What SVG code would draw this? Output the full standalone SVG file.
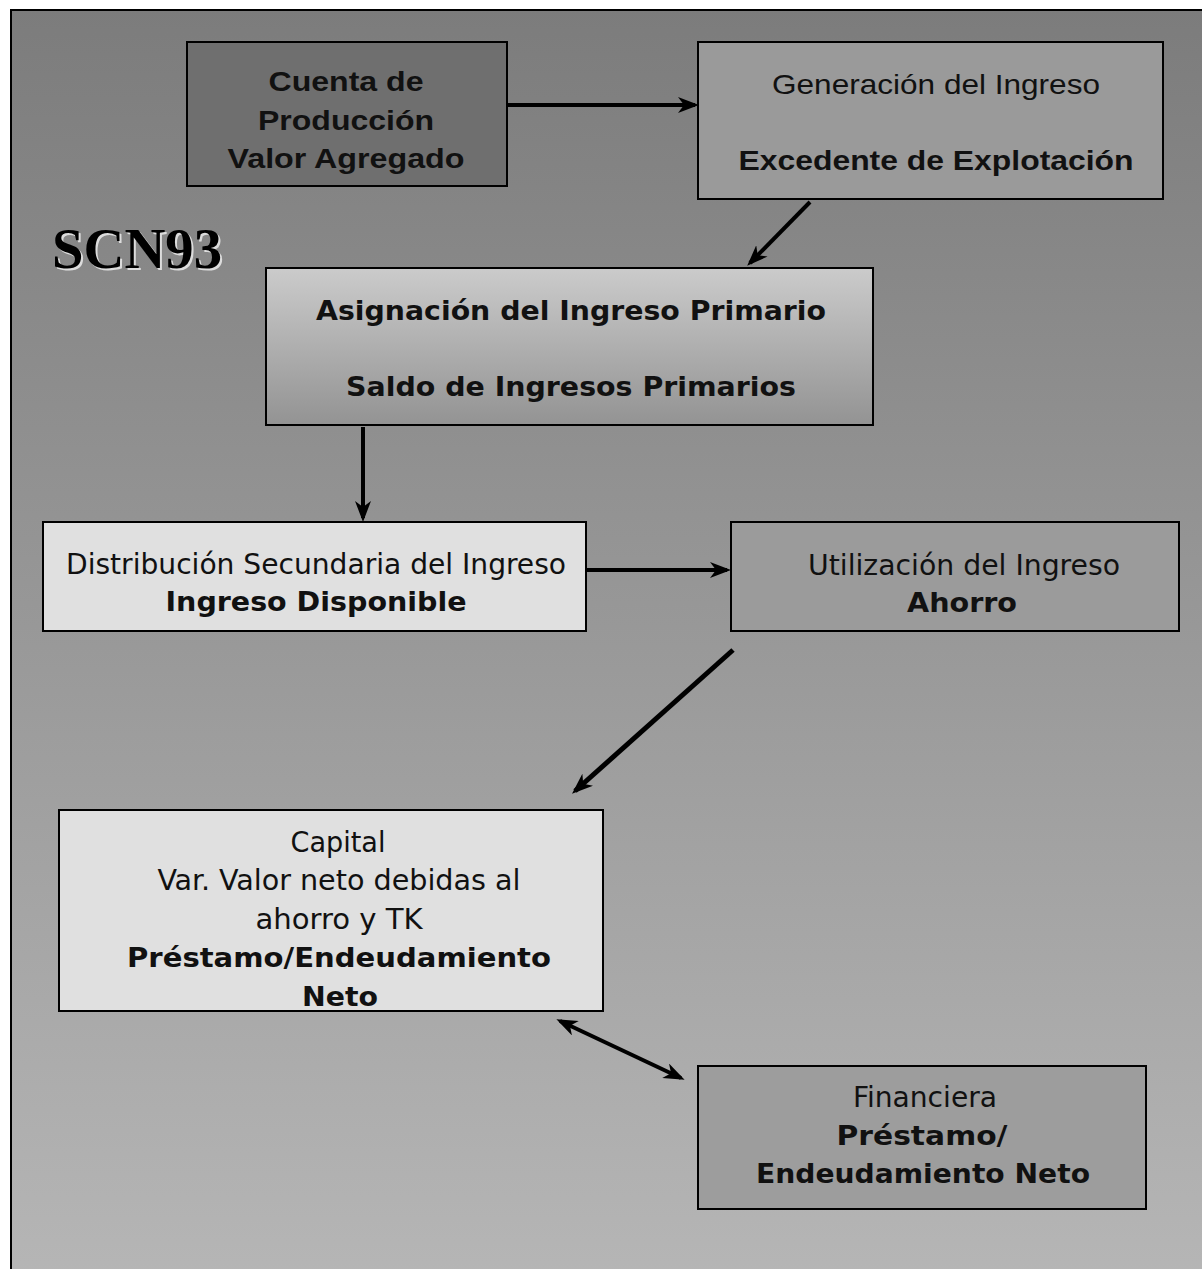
<svg xmlns="http://www.w3.org/2000/svg" width="1202" height="1269" viewBox="0 0 1202 1269">
<style>
.box{stroke:#000;stroke-width:2}
.t{font-family:"DejaVu Sans","Liberation Sans",sans-serif;font-size:27px;fill:#111;text-anchor:middle}
.r{font-family:"DejaVu Sans Condensed","DejaVu Sans","Liberation Sans",sans-serif;font-stretch:condensed;font-size:28px;fill:#111;text-anchor:middle}
.a{font-family:"Liberation Sans",Arial,sans-serif;font-size:28px;fill:#111;text-anchor:middle}
.b{font-weight:bold}
.c{stroke:#000;stroke-width:4;fill:none;marker-end:url(#ah)}
</style>
<defs>
<linearGradient id="bg" x1="0" y1="0" x2="0" y2="1">
<stop offset="0" stop-color="#7c7c7c"/>
<stop offset="1" stop-color="#b6b6b6"/>
</linearGradient>
<linearGradient id="g3" x1="0" y1="0" x2="0" y2="1">
<stop offset="0" stop-color="#cbcbcb"/>
<stop offset="1" stop-color="#939393"/>
</linearGradient>
<marker id="ah" markerUnits="userSpaceOnUse" markerWidth="22" markerHeight="16" refX="17" refY="8" orient="auto-start-reverse" viewBox="0 0 22 16">
<path d="M0,0 L21,8 L0,16 L6,8 Z" fill="#000"/>
</marker>
</defs>
<rect x="0" y="0" width="1202" height="1269" fill="#fff"/>
<rect x="11" y="10" width="1200" height="1275" fill="url(#bg)" stroke="#000" stroke-width="2"/>
<g id="title">
<text x="54" y="270" font-family="'Liberation Serif','Times New Roman',serif" font-weight="bold" font-size="56" fill="#dcdcdc" textLength="170" lengthAdjust="spacingAndGlyphs">SCN93</text>
<text x="52" y="268" font-family="'Liberation Serif','Times New Roman',serif" font-weight="bold" font-size="56" fill="#000" textLength="170" lengthAdjust="spacingAndGlyphs">SCN93</text>
</g>
<g id="connectors">
<line class="c" x1="508" y1="105" x2="695" y2="105"/>
<line class="c" x1="810" y1="202" x2="750" y2="263"/>
<line class="c" x1="363" y1="427" x2="363" y2="518"/>
<line class="c" x1="587" y1="570" x2="727" y2="570"/>
<line class="c" x1="733" y1="650" x2="575" y2="791" style="stroke-width:5"/>
<line class="c" x1="560" y1="1021" x2="681" y2="1078" style="marker-start:url(#ah)"/>
</g>
<g id="n1">
<rect class="box" x="187" y="42" width="320" height="144" fill="#6f6f6f"/>
<text class="a b" x="346" y="91" textLength="155" lengthAdjust="spacingAndGlyphs">Cuenta de</text>
<text class="a b" x="346" y="130" textLength="176" lengthAdjust="spacingAndGlyphs">Producción</text>
<text class="a b" x="346" y="168" textLength="237" lengthAdjust="spacingAndGlyphs">Valor Agregado</text>
</g>
<g id="n2">
<rect class="box" x="698" y="42" width="465" height="157" fill="#9a9a9a"/>
<text class="a" x="936" y="94" textLength="328" lengthAdjust="spacingAndGlyphs">Generación del Ingreso</text>
<text class="a b" x="936" y="170" textLength="395" lengthAdjust="spacingAndGlyphs">Excedente de Explotación</text>
</g>
<g id="n3">
<rect class="box" x="266" y="268" width="607" height="157" fill="url(#g3)"/>
<text class="t b" x="571" y="320" textLength="510" lengthAdjust="spacingAndGlyphs">Asignación del Ingreso Primario</text>
<text class="t b" x="571" y="396" textLength="450" lengthAdjust="spacingAndGlyphs">Saldo de Ingresos Primarios</text>
</g>
<g id="n4">
<rect class="box" x="43" y="522" width="543" height="109" fill="#e0e0e0"/>
<text class="r" x="316" y="574" textLength="500" lengthAdjust="spacingAndGlyphs">Distribución Secundaria del Ingreso</text>
<text class="t b" x="316" y="611" textLength="301" lengthAdjust="spacingAndGlyphs">Ingreso Disponible</text>
</g>
<g id="n5">
<rect class="box" x="731" y="522" width="448" height="109" fill="#9b9b9b"/>
<text class="r" x="964" y="575" textLength="312" lengthAdjust="spacingAndGlyphs">Utilización del Ingreso</text>
<text class="t b" x="962" y="612" textLength="110" lengthAdjust="spacingAndGlyphs">Ahorro</text>
</g>
<g id="n6">
<rect class="box" x="59" y="810" width="544" height="201" fill="#e0e0e0"/>
<text class="r" x="338" y="852" textLength="95" lengthAdjust="spacingAndGlyphs">Capital</text>
<text class="r" x="339" y="890" textLength="363" lengthAdjust="spacingAndGlyphs">Var. Valor neto debidas al</text>
<text class="r" x="339" y="929" textLength="167" lengthAdjust="spacingAndGlyphs">ahorro y TK</text>
<text class="t b" x="339" y="967" textLength="424" lengthAdjust="spacingAndGlyphs">Préstamo/Endeudamiento</text>
<text class="t b" x="340" y="1006" textLength="76" lengthAdjust="spacingAndGlyphs">Neto</text>
</g>
<g id="n7">
<rect class="box" x="698" y="1066" width="448" height="143" fill="#9d9d9d"/>
<text class="r" x="925" y="1107" textLength="144" lengthAdjust="spacingAndGlyphs">Financiera</text>
<text class="t b" x="922" y="1145" textLength="171" lengthAdjust="spacingAndGlyphs">Préstamo/</text>
<text class="t b" x="923" y="1183" textLength="334" lengthAdjust="spacingAndGlyphs">Endeudamiento Neto</text>
</g>
</svg>
